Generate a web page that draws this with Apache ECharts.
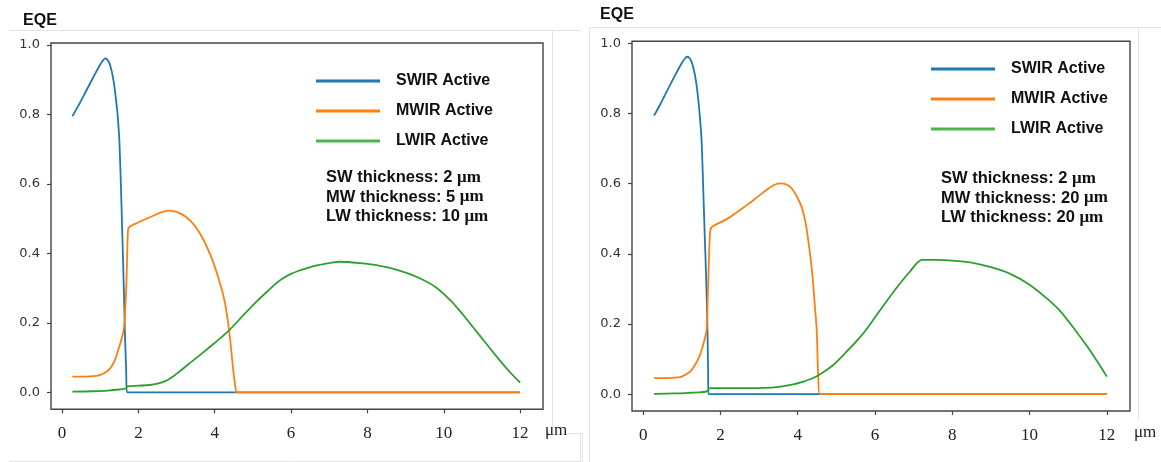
<!DOCTYPE html>
<html>
<head>
<meta charset="utf-8">
<title>EQE vs wavelength</title>
<script src="https://cdn.jsdelivr.net/npm/echarts@6/dist/echarts.min.js"></script>
<style>
  html, body { margin: 0; padding: 0; background: #fff; }
  #chart { width: 1161px; height: 462px; }
</style>
</head>
<body>
<div id="chart"></div>
<script>
// Series names (legend order)
const seriesNames = ['SWIR Active', 'MWIR Active', 'LWIR Active'];

// Tick values
const xTicks = [0, 2, 4, 6, 8, 10, 12];
const yTicks = [0.0, 0.2, 0.4, 0.6, 0.8, 1.0];

// Panel A: SW 2 µm, MW 5 µm, LW 10 µm  — [wavelength µm, EQE]
const swirA = [[0.27,0.795],[0.45,0.83],[0.65,0.872],[0.85,0.914],[1.0,0.944],[1.08,0.957],[1.13,0.962],[1.18,0.959],[1.24,0.948],[1.3,0.925],[1.36,0.89],[1.4,0.855],[1.45,0.805],[1.5,0.727],[1.54,0.6],[1.58,0.45],[1.62,0.29],[1.65,0.16],[1.68,0.06],[1.7,0],[12,0]];
const mwirA = [[0.27,0.045],[0.6,0.045],[0.9,0.047],[1.0,0.05],[1.1,0.055],[1.2,0.062],[1.3,0.075],[1.4,0.097],[1.47,0.122],[1.55,0.15],[1.62,0.185],[1.66,0.25],[1.69,0.33],[1.72,0.45],[1.74,0.473],[1.95,0.487],[2.3,0.504],[2.55,0.516],[2.78,0.523],[2.95,0.521],[3.17,0.511],[3.35,0.495],[3.52,0.473],[3.7,0.44],[3.87,0.40],[4.0,0.362],[4.1,0.328],[4.2,0.29],[4.28,0.25],[4.35,0.2],[4.41,0.145],[4.46,0.09],[4.51,0.04],[4.55,0.01],[4.57,0],[12,0]];
const lwirA = [[0.27,0.002],[0.8,0.003],[1.2,0.005],[1.5,0.008],[1.67,0.011],[1.7,0.017],[2.0,0.019],[2.3,0.021],[2.5,0.025],[2.7,0.032],[2.9,0.045],[3.1,0.062],[3.3,0.08],[3.61,0.107],[3.83,0.127],[4.04,0.146],[4.39,0.18],[4.75,0.222],[5.14,0.266],[5.4,0.293],[5.6,0.313],[5.8,0.329],[6.0,0.341],[6.2,0.35],[6.4,0.357],[6.7,0.366],[7.0,0.372],[7.27,0.376],[7.8,0.372],[8.3,0.365],[8.8,0.352],[9.3,0.332],[9.8,0.302],[10.2,0.262],[10.5,0.224],[10.8,0.183],[11.1,0.142],[11.4,0.101],[11.7,0.062],[12,0.028]];

// Panel B: SW 2 µm, MW 20 µm, LW 20 µm
const swirB = [[0.28,0.794],[0.45,0.828],[0.65,0.872],[0.85,0.914],[1.0,0.944],[1.08,0.957],[1.14,0.962],[1.19,0.959],[1.25,0.948],[1.31,0.925],[1.37,0.89],[1.41,0.855],[1.46,0.8],[1.51,0.725],[1.55,0.6],[1.59,0.46],[1.63,0.33],[1.66,0.2],[1.68,0.07],[1.69,0],[12,0]];
const mwirB = [[0.28,0.046],[0.6,0.046],[0.9,0.048],[1.0,0.05],[1.1,0.056],[1.21,0.064],[1.3,0.076],[1.4,0.095],[1.47,0.112],[1.55,0.14],[1.64,0.183],[1.67,0.27],[1.7,0.38],[1.73,0.46],[1.77,0.476],[2.16,0.499],[2.68,0.539],[3.0,0.566],[3.19,0.582],[3.4,0.597],[3.57,0.601],[3.72,0.597],[3.84,0.587],[3.97,0.565],[4.10,0.534],[4.2,0.49],[4.27,0.44],[4.34,0.38],[4.39,0.326],[4.43,0.269],[4.49,0.183],[4.53,0.05],[4.575,0],[12,0]];
const lwirB = [[0.28,0.001],[0.8,0.002],[1.2,0.004],[1.5,0.006],[1.65,0.008],[1.73,0.017],[2.5,0.017],[3.11,0.018],[3.5,0.021],[3.88,0.028],[4.15,0.036],[4.4,0.046],[4.65,0.062],[4.92,0.083],[5.15,0.108],[5.35,0.131],[5.55,0.155],[5.75,0.181],[6.0,0.219],[6.3,0.265],[6.6,0.309],[6.9,0.349],[7.22,0.383],[7.6,0.383],[8.0,0.381],[8.5,0.375],[9.0,0.362],[9.5,0.343],[10.0,0.312],[10.5,0.268],[10.8,0.236],[11.16,0.186],[11.5,0.135],[11.8,0.085],[12,0.05]];

// Layer thickness notes per panel
const notesA = ['SW thickness: 2', 'MW thickness: 5', 'LW thickness: 10'];
const notesB = ['SW thickness: 2', 'MW thickness: 20', 'LW thickness: 20'];

const colors = ['#1f77b4', '#ff7f0e', '#2ca02c'];
const legendColors = ['#1f77b4', '#ff7f0e', '#4db34d'];

const sans = "'Liberation Sans', Arial, sans-serif";
const serif = "'Liberation Serif', 'Times New Roman', serif";

function xAxisFor(gridIndex, nameGap) {
  return {
    type: 'value', gridIndex, min: -0.29, max: 12.6,
    name: 'μm', nameLocation: 'end', nameGap,
    nameTextStyle: { fontFamily: serif, fontSize: 17, color: '#222', verticalAlign: 'top', align: 'left', padding: [13, 0, 0, 0] },
    axisLine: { show: false, onZero: false },
    axisTick: { show: true, length: 4, customValues: xTicks, lineStyle: { color: '#444', width: 1.2 } },
    axisLabel: { customValues: xTicks, margin: 16, fontFamily: serif, fontSize: 17, color: '#222' },
    splitLine: { show: false }
  };
}
function yAxisFor(gridIndex, min, nameGap, shift) {
  return {
    type: 'value', gridIndex, min, max: 1.006,
    name: 'EQE', nameLocation: 'end', nameGap,
    nameTextStyle: { fontFamily: sans, fontWeight: 'bold', fontSize: 16, color: '#111', align: 'center', padding: [0, shift, 0, 0] },
    axisLine: { show: false, onZero: false },
    axisTick: { show: true, length: 4, customValues: yTicks, lineStyle: { color: '#444', width: 1.2 } },
    axisLabel: { customValues: yTicks, margin: 11, fontFamily: "'DejaVu Sans', sans-serif", fontSize: 13, color: '#333',
      formatter: v => v.toFixed(1) },
    splitLine: { show: false }
  };
}
function lineSeries(name, data, i, idx) {
  return {
    type: 'line', name, data, xAxisIndex: idx, yAxisIndex: idx,
    showSymbol: false, smooth: 0.3, z: 2 + i,
    lineStyle: { color: colors[i], width: 1.8 }, itemStyle: { color: colors[i] },
    emphasis: { disabled: true }
  };
}
function legendFor(left, top) {
  return {
    left, top, orient: 'vertical', padding: 0, itemGap: 14,
    itemWidth: 64, itemHeight: 3, icon: 'rect', selectedMode: false,
    textStyle: { fontFamily: sans, fontWeight: 'bold', fontSize: 16, lineHeight: 16, color: '#111', padding: [0, 0, 0, 11] },
    data: seriesNames.map((n, i) => ({ name: n, itemStyle: { color: legendColors[i] } }))
  };
}
function noteText(lines, left, top) {
  return {
    type: 'text', left, top, z: 10,
    style: {
      text: lines.map(l => '{a|' + l + ' }{u|μm}').join('\n'),
      rich: {
        a: { fontFamily: sans, fontWeight: 'bold', fontSize: 16.5, lineHeight: 19.5, fill: '#111' },
        u: { fontFamily: serif, fontWeight: 'bold', fontSize: 17, lineHeight: 19.5, fill: '#111' }
      }
    }
  };
}
function faintLine(x1, y1, x2, y2) {
  return { type: 'line', silent: true, z: 0, shape: { x1, y1, x2, y2 }, style: { stroke: '#e3e3e3', lineWidth: 1 } };
}

const chart = echarts.init(document.getElementById('chart'), null, { renderer: 'canvas' });
chart.setOption({
  animation: false,
  backgroundColor: '#fff',
  grid: [
    { left: 51, top: 43, width: 492, height: 366.3, show: true, borderColor: '#444', borderWidth: 1.4, backgroundColor: 'transparent' },
    { left: 632, top: 41.3, width: 498, height: 369.7, show: true, borderColor: '#444', borderWidth: 1.4, backgroundColor: 'transparent' }
  ],
  xAxis: [xAxisFor(0, 2), xAxisFor(1, 4)],
  yAxis: [yAxisFor(0, -0.049, 14, 22), yAxisFor(1, -0.048, 19, 30)],
  legend: [legendFor(316, 73), legendFor(931, 61)],
  series: [
    lineSeries(seriesNames[0], swirA, 0, 0),
    lineSeries(seriesNames[1], mwirA, 1, 0),
    lineSeries(seriesNames[2], lwirA, 2, 0),
    lineSeries(seriesNames[0], swirB, 0, 1),
    lineSeries(seriesNames[1], mwirB, 1, 1),
    lineSeries(seriesNames[2], lwirB, 2, 1)
  ],
  graphic: [
    noteText(notesA, 326, 169),
    noteText(notesB, 941, 170),
    // thin page-edge rules around each panel
    faintLine(9, 30.5, 580, 30.5),
    faintLine(552.5, 30, 552.5, 428),
    faintLine(567, 433.5, 580, 433.5),
    faintLine(580.5, 433, 580.5, 462),
    faintLine(9, 461.5, 580, 461.5),
    faintLine(589, 27.5, 1161, 27.5),
    faintLine(589.5, 27, 589.5, 462),
    faintLine(1138.5, 27, 1138.5, 420),
    faintLine(582.5, 433, 582.5, 462)
  ]
});
</script>
</body>
</html>
